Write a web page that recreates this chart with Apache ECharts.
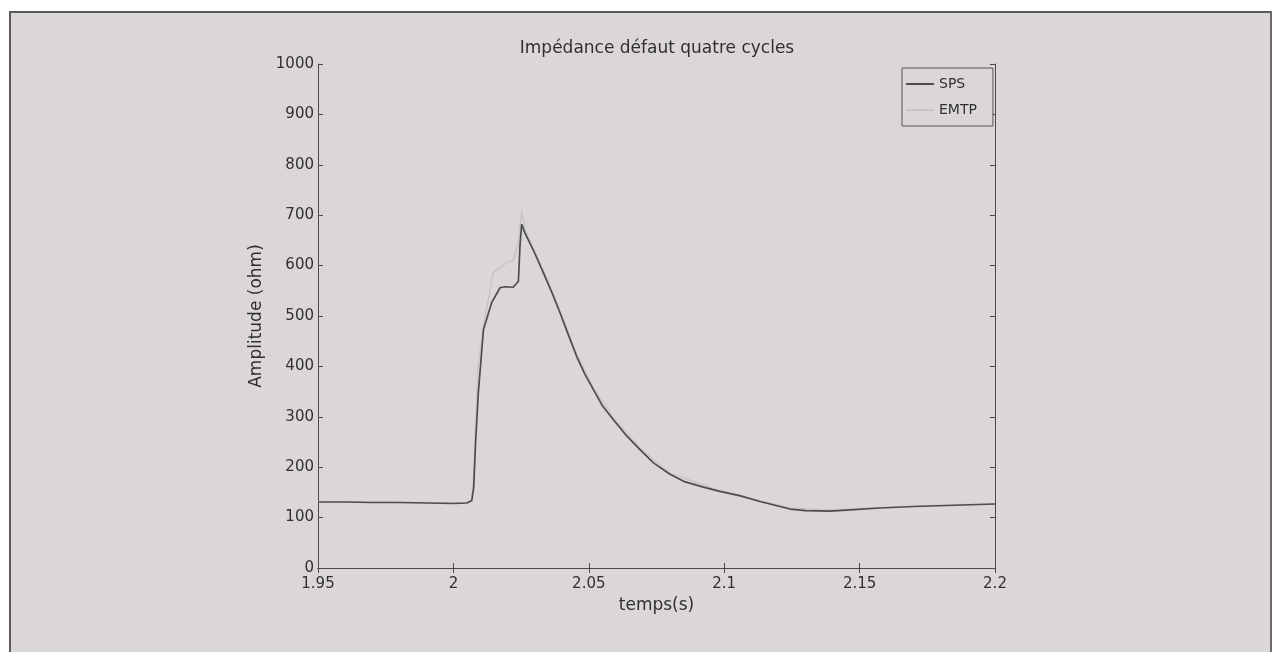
<!DOCTYPE html>
<html>
<head>
<meta charset="utf-8">
<script src="https://cdn.jsdelivr.net/npm/echarts@6/dist/echarts.min.js"></script>
<style>
  html, body { margin: 0; padding: 0; background: #ffffff; width: 1279px; height: 652px; overflow: hidden; }
  #frame { position: absolute; left: 9px; top: 11px; width: 1259px; height: 650px; background: #dbd7d9;
           border-left: 2px solid #5a5a5a; border-top: 2px solid #5a5a5a; border-right: 2px solid #6a6a6a; }
  #chart { position: absolute; left: 0; top: 0; width: 1279px; height: 652px; }
</style>
</head>
<body>
<div id="frame"></div>
<div id="chart"></div>
<script>
// ---- data ----
const titleText = 'Impédance défaut quatre cycles';
const xName = 'temps(s)';
const yName = 'Amplitude (ohm)';
const seriesNames = ['SPS', 'EMTP'];

const timeSPS = [1.95,1.96,1.97,1.98,1.99,2.0,2.005,2.0068,2.0075,2.0082,2.0092,2.0111,2.0141,2.0172,2.019,2.0221,2.024,2.0246,2.0252,2.0264,2.03,2.0332,2.0365,2.0394,2.0425,2.0455,2.0485,2.0517,2.055,2.0591,2.064,2.0689,2.074,2.08,2.085,2.092,2.0984,2.106,2.1132,2.1243,2.13,2.1391,2.148,2.1575,2.17,2.1822,2.2];
const ampSPS  = [131,131,130,130,129,128,129,134,160,250,347,473,526,556,558,557,569,640,682,665,625,586,545,506,462,420,385,354,322,294,262,235,208,186,172,161,152,143,132,117,114,113,116,119,122,124,127];

const timeEMTP = [1.95,1.97,1.99,2.0,2.005,2.0066,2.0074,2.008,2.0091,2.0111,2.0147,2.0197,2.022,2.0238,2.0252,2.0264,2.03,2.0332,2.0394,2.0455,2.0517,2.0591,2.0689,2.08,2.0984,2.1132,2.1243,2.1391,2.1575,2.1822,2.2];
const ampEMTP  = [132,131,130,129,130,133,170,250,398,480,586,606,610,640,708,672,630,590,510,424,357,297,238,188,154,134,119,115,120,125,128];

const xMin = 1.95, xMax = 2.2, xStep = 0.05;
const yMin = 0, yMax = 1000, yStep = 100;

// ---- chart ----
const pairs = (xs, ys) => xs.map((x, i) => [x, ys[i]]);
const FONT = 'DejaVu Sans';
const TXT = '#303030';
const AX = '#4a4a4a';

const chart = echarts.init(document.getElementById('chart'), null, { renderer: 'canvas' });

const baseAxisLine = { show: true, lineStyle: { color: AX, width: 1 } };
const baseTick = { show: true, inside: true, length: 5, lineStyle: { color: AX, width: 1 } };

chart.setOption({
  backgroundColor: 'transparent',
  animation: false,
  title: {
    text: titleText,
    left: 657,
    top: 40,
    padding: 0,
    textAlign: 'center',
    textStyle: { fontFamily: FONT, fontSize: 17, fontWeight: 'normal', color: TXT }
  },
  legend: {
    orient: 'vertical',
    left: 902,
    top: 68,
    padding: [9, 16, 9, 4],
    itemGap: 12,
    itemWidth: 28,
    itemHeight: 2,
    icon: 'rect',
    backgroundColor: '#dbd7d9',
    borderColor: '#555555',
    borderWidth: 1,
    borderRadius: 0,
    textStyle: { fontFamily: FONT, fontSize: 14, color: TXT },
    data: seriesNames
  },
  grid: { left: 318, right: 284, top: 64, bottom: 84, containLabel: false },
  xAxis: [
    {
      type: 'value', min: xMin, max: xMax, interval: xStep, position: 'bottom',
      name: xName, nameLocation: 'middle', nameGap: 24,
      nameTextStyle: { fontFamily: FONT, fontSize: 17, color: TXT },
      axisLine: baseAxisLine, axisTick: baseTick, splitLine: { show: false },
      axisLabel: { fontFamily: FONT, fontSize: 15, color: TXT, margin: 9,
                   formatter: v => String(+v.toFixed(2)) }
    },
    {
      type: 'value', min: xMin, max: xMax, interval: xStep, position: 'top',
      axisLine: baseAxisLine, axisTick: baseTick, splitLine: { show: false },
      axisLabel: { show: false }
    }
  ],
  yAxis: [
    {
      type: 'value', min: yMin, max: yMax, interval: yStep, position: 'left',
      name: yName, nameLocation: 'middle', nameGap: 40, nameRotate: 90,
      nameTextStyle: { fontFamily: FONT, fontSize: 17, color: TXT },
      axisLine: baseAxisLine, axisTick: baseTick, splitLine: { show: false },
      axisLabel: { fontFamily: FONT, fontSize: 15, color: TXT, margin: 4,
                   formatter: v => String(v) }
    },
    {
      type: 'value', min: yMin, max: yMax, interval: yStep, position: 'right',
      axisLine: baseAxisLine, axisTick: baseTick, splitLine: { show: false },
      axisLabel: { show: false }
    }
  ],
  series: [
    {
      name: seriesNames[0], type: 'line', data: pairs(timeSPS, ampSPS),
      symbol: 'none', smooth: false, z: 5,
      lineStyle: { color: '#4d4d4d', width: 1.7 }, itemStyle: { color: '#4d4d4d' }
    },
    {
      name: seriesNames[1], type: 'line', data: pairs(timeEMTP, ampEMTP),
      symbol: 'none', smooth: false, z: 3,
      lineStyle: { color: '#c9c5c7', width: 1.6 }, itemStyle: { color: '#c9c5c7' }
    }
  ]
});
</script>
</body>
</html>
